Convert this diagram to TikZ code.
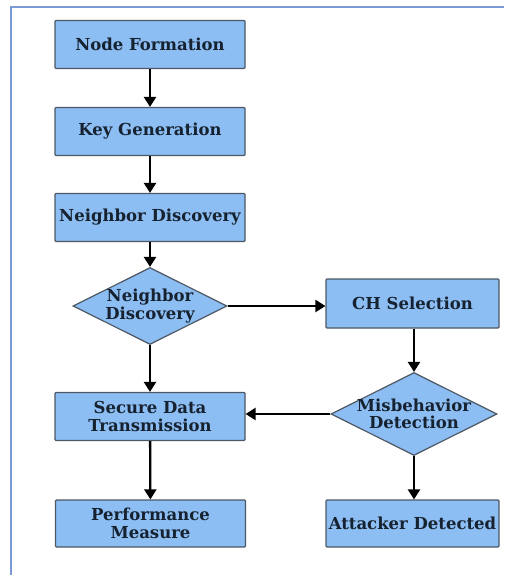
\documentclass[tikz,border=0pt]{standalone}
\usepackage{fontspec}
\setmainfont{DejaVu Serif}
\usetikzlibrary{shapes.geometric,arrows.meta}
\definecolor{boxfill}{HTML}{8CBDF3}
\definecolor{boxline}{HTML}{4D5864}
\definecolor{txt}{HTML}{16222F}
\definecolor{frame}{HTML}{7A9AD8}
\tikzset{
  stepbox/.style={rectangle, draw=boxline, fill=boxfill, line width=1.2pt, rounded corners=1pt,
    minimum width=190pt, minimum height=48pt, inner sep=0pt, text=txt,
    font=\fontsize{16.5}{17.5}\selectfont\bfseries, align=center},
  decbox/.style={diamond, draw=boxline, fill=boxfill, line width=1.2pt, aspect=2, inner sep=-6pt,
    text=txt, font=\fontsize{16.5}{17.5}\selectfont\bfseries, align=center},
  flow/.style={line width=2.3pt, -{Triangle[length=10pt,width=12pt]}}
}
\begin{document}
\begin{tikzpicture}[x=1pt,y=-1pt]
\useasboundingbox (0,0) rectangle (504,575);
\draw[frame, line width=1.5pt] (11,575) -- (11,7) -- (504,7);
\node[stepbox] (nf) at (150,44.5) {Node Formation};
\node[stepbox] (kg) at (150,131.5) {Key Generation};
\node[stepbox] (nd) at (150,217.5) {Neighbor Discovery};
\node[decbox, minimum width=154pt, minimum height=77pt] (d1) at (150,306) {Neighbor\\Discovery};
\node[stepbox, minimum width=173pt, minimum height=49pt] (ch) at (412.5,303.5) {CH Selection};
\node[decbox, minimum width=166pt, minimum height=83pt] (mb) at (414,414) {Misbehavior\\Detection};
\node[stepbox] (sd) at (150,416.5) {Secure Data\\Transmission};
\node[stepbox, minimum height=47pt] (pm) at (150.5,523.5) {Performance\\Measure};
\node[stepbox, minimum width=173pt, minimum height=47pt] (ad) at (412.5,523.5) {Attacker Detected};
\draw[flow] (nf) -- (kg);
\draw[flow] (kg) -- (nd);
\draw[flow] (nd) -- (d1);
\draw[flow] (d1) -- (sd);
\draw[flow] (d1.east) -- (d1.east -| ch.west);
\draw[flow] (ch.south -| mb.north) -- (mb.north);
\draw[flow] (mb.west) -- (mb.west -| sd.east);
\draw[flow] (sd) -- (pm);
\draw[flow] (mb.south) -- (mb.south |- ad.north);
\end{tikzpicture}
\end{document}
